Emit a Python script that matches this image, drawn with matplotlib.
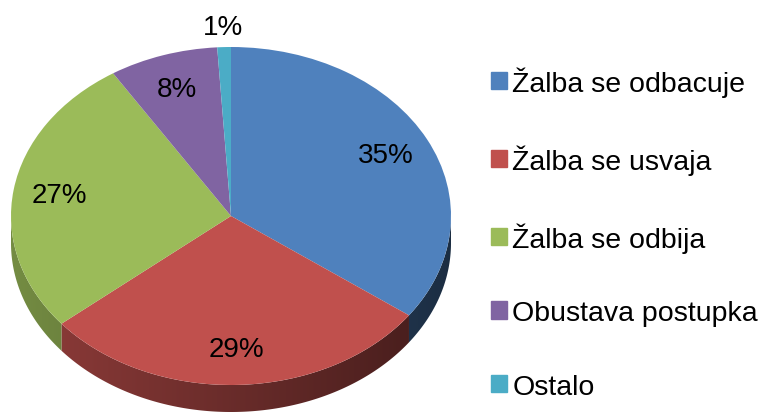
import numpy as np
import matplotlib.pyplot as plt
from matplotlib.patches import Polygon

plt.rcParams['font.family'] = ['Liberation Sans', 'DejaVu Sans']

# data
labels = ['Žalba se odbacuje', 'Žalba se usvaja', 'Žalba se odbija',
          'Obustava postupka', 'Ostalo']
values = [35, 29, 27, 8, 1]
colors = ['#4F81BD', '#C0504D', '#9BBB59', '#8064A2', '#4BACC6']

W, H = 760, 414
fig = plt.figure(figsize=(W / 100, H / 100), dpi=100)

# top face ellipse: center (231,217) px, rx 220, ry 169; axes reach below for the side
cx, cy, rx, ry = 231, 217, 220, 169
ylo = -1.25
ax = fig.add_axes([(cx - rx) / W, (H - cy + ylo * ry) / H,
                   2 * rx / W, (1 - ylo) * ry / H])

wedges, texts, autotexts = ax.pie(values, colors=colors, startangle=90,
                                  counterclock=False, autopct='%.0f%%',
                                  pctdistance=0.79, labeldistance=None,
                                  wedgeprops=dict(linewidth=0, zorder=3),
                                  textprops=dict(fontsize=20, color='black'))
ax.axis('off')

# the small slice gets its label outside the pie
w = wedges[-1]
mid = np.deg2rad((w.theta1 + w.theta2) / 2)
autotexts[-1].set_position((1.12 * np.cos(mid), 1.12 * np.sin(mid)))
for t in autotexts:
    t.set_zorder(5)
    t.set_clip_on(False)

# side of the 3d pie (front half only), shaded left to right
depth = 27 / ry
xs = np.linspace(-1, 1, 400)
for w, c in zip(wedges, colors):
    base = np.array(plt.matplotlib.colors.to_rgb(c))
    ang = np.deg2rad(np.linspace(w.theta1, w.theta2, 400))
    ang = ang[np.sin(ang) <= 1e-9]
    if len(ang) < 2:
        continue
    top = np.column_stack([np.cos(ang), np.sin(ang)])
    bot = top[::-1] - [0, depth]
    poly = Polygon(np.vstack([top, bot]), closed=True, facecolor='none',
                   edgecolor='none', transform=ax.transData)
    ax.add_patch(poly)
    shade = np.clip((0.55 - 0.2 * xs)[:, None] * base, 0, 1)
    img = ax.imshow(shade[None, :, :], extent=[-1, 1, -1 - depth, 0],
                    aspect='auto', interpolation='bilinear', zorder=1)
    img.set_clip_path(poly)

ax.set_aspect('auto')
ax.set_xlim(-1, 1)
ax.set_ylim(ylo, 1)

handles = [plt.Rectangle((0, 0), 1, 1, color=c) for c in colors]
leg = fig.legend(handles, labels, loc='upper left',
                 bbox_to_anchor=(491 / W, 1 - 67 / H), frameon=False,
                 fontsize=20.5, handlelength=0.55, handleheight=0.55,
                 handletextpad=0.2, labelspacing=1.67, borderpad=0,
                 borderaxespad=0)

fig.savefig('out.png', dpi=100)
